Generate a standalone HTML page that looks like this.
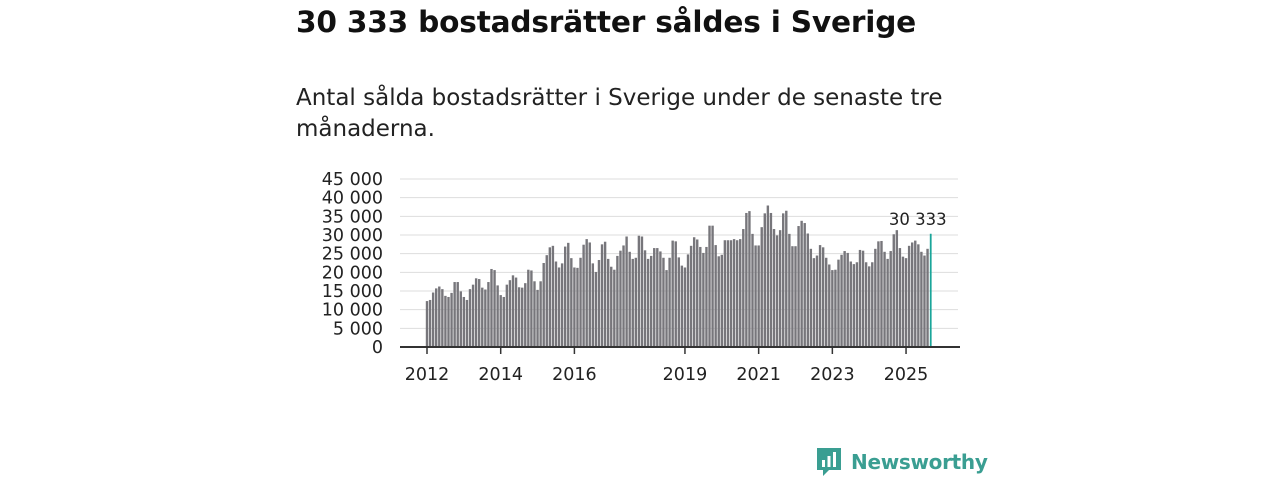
<!DOCTYPE html>
<html><head><meta charset="utf-8"><style>
body{margin:0;width:1280px;height:480px;background:#fff;font-family:"DejaVu Sans","Liberation Sans",sans-serif;color:#111;overflow:hidden;position:relative}
#title{position:absolute;left:296px;top:5px;font-size:29.6px;font-weight:bold;margin:0;letter-spacing:-0.2px}
#sub{position:absolute;left:296px;top:83px;font-size:23px;line-height:31px;width:700px;margin:0;color:#222}
svg{position:absolute;left:0;top:0}
</style></head><body>
<h1 id="title">30 333 bostadsrätter såldes i Sverige</h1>
<p id="sub">Antal sålda bostadsrätter i Sverige under de senaste tre<br>månaderna.</p>
<svg id="chart" width="1280" height="480" font-family="DejaVu Sans, sans-serif"></svg>
<script>
const yearLabels=[2012,2014,2016,2019,2021,2023,2025];
const yTicks=[0,5000,10000,15000,20000,25000,30000,35000,40000,45000];
const values=[
12.3,12.6,14.6,15.7,16.2,15.5,13.7,13.4,14.5,17.4,17.4,14.9,
13.4,12.6,15.5,16.7,18.4,18.2,15.9,15.4,17.4,20.9,20.6,16.5,
13.9,13.4,16.7,17.9,19.2,18.6,16,15.9,17.1,20.7,20.5,17.6,
15.3,17.6,22.5,24.6,26.7,27.1,22.9,21.3,22.4,26.9,27.9,23.8,
21.3,21.2,23.9,27.4,28.9,28,22.4,20.1,23.3,27.5,28.2,23.6,
21.5,20.7,24.4,25.8,27.2,29.6,25.5,23.6,23.9,29.8,29.6,25.9,
23.6,24.4,26.5,26.5,25.6,23.9,20.6,23.9,28.5,28.3,24.0,21.8,
21.3,24.8,27.1,29.4,28.8,26.8,25.2,26.8,32.5,32.5,27.3,24.3,
24.7,28.6,28.6,28.6,28.9,28.6,28.9,31.6,35.9,36.4,30.3,27.2,
27.2,32.1,35.8,37.9,35.9,31.6,29.9,31.3,35.8,36.5,30.3,27,
27,32.4,33.8,33.2,30.4,26.3,23.8,24.5,27.3,26.7,23.9,22.1,
20.6,20.7,23.4,24.7,25.7,25.2,22.9,22.2,22.7,26,25.8,22.7,
21.6,22.7,26.3,28.3,28.4,25.5,23.6,25.7,30.2,31.3,26.5,24.2,
23.8,27.1,28,28.5,27.5,25.5,24.5,26.3,30.333];
const startYear=2012;
const NS='http://www.w3.org/2000/svg';
const svg=document.getElementById('chart');
const x0=427,pxYear=36.85,y0=347,pxUnit=168/45000;
const X=i=>x0+i*pxYear/12;
const Y=v=>y0-v*pxUnit;
function mk(t,a){const e=document.createElementNS(NS,t);for(const k in a)e.setAttribute(k,a[k]);svg.appendChild(e);return e;}
yTicks.forEach(v=>{
  const g=mk('line',{x1:400,x2:958,y1:Y(v),y2:Y(v),stroke:'#ddd','stroke-width':1});
  
  
  const t=mk('text',{x:383,y:Y(v)+6,'text-anchor':'end','font-size':17.5,fill:'#222'});
  t.textContent=v===0?'0':(v/1000)+' 000';
  
  
});
values.forEach((v,i)=>{
  const last=i===values.length-1;
  const b=mk('rect',{x:last?X(i)-0.8:X(i)-1.2,y:Y(v*1000),width:last?1.8:2.4,height:v*1000*pxUnit,fill:last?'#1aa59a':'#77767b'});
  
  
});
const lv=mk('text',{x:X(values.length-1)+16,y:Y(values[values.length-1]*1000)-9,'text-anchor':'end','font-size':16.5,fill:'#222'});
lv.textContent='30 333';


const ax=mk('line',{x1:400,x2:960,y1:y0,y2:y0,stroke:'#333','stroke-width':2});


yearLabels.forEach(yr=>{
  const xx=X((yr-startYear)*12);
  const tk=mk('line',{x1:xx,x2:xx,y1:y0,y2:y0+7,stroke:'#333','stroke-width':1.5});
  
  
  const t=mk('text',{x:xx,y:380,'text-anchor':'middle','font-size':17.5,fill:'#222'});
  t.textContent=yr;
  
  
});
</script>
<div style="position:absolute;left:815px;top:446px;display:flex;align-items:center;gap:8px">
<svg width="28" height="32" style="position:static" viewBox="0 0 28 32"><path d="M2 2h24v22H14l-6 6v-6H2z" fill="#3a9e92"/><rect x="7" y="14" width="3" height="7" fill="#fff"/><rect x="12.5" y="10" width="3" height="11" fill="#fff"/><rect x="18" y="6" width="3" height="15" fill="#fff"/></svg>
<span style="font-size:20px;color:#3a9e92;font-weight:bold;letter-spacing:-0.3px">Newsworthy</span></div>
</body></html>
